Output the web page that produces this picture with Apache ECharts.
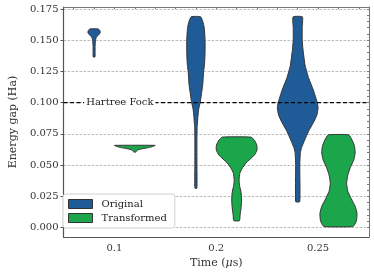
<!DOCTYPE html>
<html><head><meta charset="utf-8">
<script src="https://cdn.jsdelivr.net/npm/echarts@6/dist/echarts.min.js"></script>
<style>html,body{margin:0;padding:0;background:#fff}#c{width:374px;height:276px}</style>
</head><body><div id="c"></div>
<script>
const categories = ['0.1', '0.2', '0.25'];
const seriesNames = ['Original', 'Transformed'];
const yTicks = [0, 0.025, 0.05, 0.075, 0.1, 0.125, 0.15, 0.175];
const hartreeFock = 0.1;

// Violin outlines: energy levels (Ha) and relative half-widths (1 = full violin half-width)
const orig01Y = [0.1590, 0.1575, 0.1560, 0.1545, 0.1525, 0.1500, 0.1450, 0.1400, 0.1366];
const orig01W = [0.21, 0.29, 0.30, 0.24, 0.12, 0.07, 0.05, 0.05, 0.045];
const orig02Y = [0.1688, 0.1650, 0.1600, 0.1500, 0.1400, 0.1300, 0.1250, 0.1150, 0.1090, 0.1010, 0.0950, 0.0890, 0.0800, 0.0700, 0.0500, 0.0315];
const orig02W = [0.23, 0.34, 0.41, 0.45, 0.45, 0.42, 0.38, 0.34, 0.29, 0.22, 0.14, 0.10, 0.06, 0.05, 0.05, 0.05];
const orig025Y = [0.1687, 0.1600, 0.1500, 0.1425, 0.1300, 0.1200, 0.1100, 0.1000, 0.0960, 0.0900, 0.0840, 0.0770, 0.0700, 0.0640, 0.0600, 0.0500, 0.0207];
const orig025W = [0.23, 0.22, 0.22, 0.26, 0.36, 0.53, 0.77, 0.96, 1.00, 0.94, 0.77, 0.53, 0.34, 0.19, 0.13, 0.10, 0.10];

const trans01Y = [0.0658, 0.0650, 0.0640, 0.0630, 0.0620, 0.0610, 0.0604];
const trans01W = [1.00, 0.91, 0.67, 0.34, 0.14, 0.07, 0.05];
const trans02Y = [0.0724, 0.0700, 0.0660, 0.0620, 0.0580, 0.0515, 0.0470, 0.0435, 0.0380, 0.0340, 0.0280, 0.0220, 0.0160, 0.0100, 0.0055];
const trans02W = [0.70, 0.87, 0.99, 1.00, 0.87, 0.45, 0.26, 0.16, 0.12, 0.14, 0.22, 0.24, 0.22, 0.17, 0.14];
const trans025Y = [0.0742, 0.0700, 0.0650, 0.0596, 0.0540, 0.0480, 0.0420, 0.0355, 0.0290, 0.0230, 0.0170, 0.0114, 0.0060, 0.0030, 0.0007];
const trans025W = [0.50, 0.67, 0.79, 0.82, 0.75, 0.58, 0.46, 0.40, 0.46, 0.63, 0.82, 0.91, 0.89, 0.82, 0.71];

const violins = {
  Original: [[orig01Y, orig01W], [orig02Y, orig02W], [orig025Y, orig025W]],
  Transformed: [[trans01Y, trans01W], [trans02Y, trans02W], [trans025Y, trans025W]]
};
const colors = { Original: '#1f5b96', Transformed: '#1ba64b' };
const FONT = 'DejaVu Serif';

function violinSeries(name, sign) {
  return {
    name: name, type: 'custom', xAxisIndex: 0, yAxisIndex: 0, clip: false, z: 3,
    itemStyle: { color: colors[name], borderColor: '#333' },
    encode: { x: 0, y: 1 },
    data: categories.map((c, i) => [i, violins[name][i][0][0]]),
    renderItem: function (params, api) {
      const i = api.value(0);
      const ys = violins[name][i][0], ws = violins[name][i][1];
      const band = api.size([1, 0])[0];
      const cx = api.coord([i, 0])[0] + sign * 0.2 * band;
      const hw = 0.2 * band;
      const right = [], left = [];
      for (let k = 0; k < ys.length; k++) {
        const py = api.coord([i, ys[k]])[1];
        right.push([cx + ws[k] * hw, py]);
        left.push([cx - ws[k] * hw, py]);
      }
      const pts = right.concat(left.reverse());
      return {
        type: 'polygon',
        shape: { points: pts, smooth: 0.15 },
        style: { fill: colors[name], stroke: '#333', lineWidth: 1 }
      };
    }
  };
}

const chart = echarts.init(document.getElementById('c'), null, { renderer: 'canvas' });
chart.setOption({
  animation: false,
  textStyle: { fontFamily: FONT },
  grid: { left: 57, right: 5, top: 7, bottom: 39 },
  xAxis: [{
    type: 'category', data: categories, position: 'bottom',
    axisLine: { onZero: false, lineStyle: { color: '#555', width: 1.2 } },
    axisTick: { show: false },
    axisLabel: { color: '#333', fontFamily: FONT, fontSize: 10, margin: 6 },
    name: '{a|Time (}{b|μ}{a|s)}', nameLocation: 'middle', nameGap: 21,
    nameTextStyle: { color: '#333', fontFamily: FONT, fontSize: 11,
      rich: { a: { fontFamily: FONT, fontSize: 11, color: '#333' },
              b: { fontFamily: FONT, fontSize: 11, color: '#333', fontStyle: 'italic' } } }
  }, {
    type: 'value', min: 0, max: 3, position: 'top',
    axisLine: { show: true, onZero: false, lineStyle: { color: '#777', width: 1 } },
    axisTick: { show: true, inside: true, length: 2, lineStyle: { color: '#777' },
      customValues: [0.1, 0.3, 0.5, 0.7, 0.9, 1.1, 1.3, 1.5, 1.7, 1.9, 2.1, 2.3, 2.5, 2.7, 2.9] },
    axisLabel: { show: false }, splitLine: { show: false }
  }],
  yAxis: [{
    type: 'value', min: -0.0076, max: 0.1766,
    axisLine: { show: true, onZero: false, lineStyle: { color: '#555', width: 1.2 } },
    axisTick: { show: true, length: 3, lineStyle: { color: '#555' }, customValues: yTicks },
    axisLabel: { color: '#333', fontFamily: FONT, fontSize: 10, margin: 5,
      customValues: yTicks, formatter: v => v.toFixed(3) },
    splitLine: { show: true, lineStyle: { color: '#aaaaaa', type: [2.5, 1.5], width: 0.8 } },
    name: 'Energy gap (Ha)', nameLocation: 'middle', nameGap: 40,
    nameTextStyle: { color: '#333', fontFamily: FONT, fontSize: 11 }
  }, {
    type: 'value', min: -0.0076, max: 0.1766, position: 'right',
    axisLine: { show: true, onZero: false, lineStyle: { color: '#777', width: 1 } },
    axisTick: { show: true, inside: true, length: 2, lineStyle: { color: '#777' },
      customValues: [0, 0.005, 0.01, 0.015, 0.02, 0.025, 0.03, 0.035, 0.04, 0.045, 0.05, 0.055, 0.06, 0.065, 0.07, 0.075, 0.08, 0.085, 0.09, 0.095, 0.1, 0.105, 0.11, 0.115, 0.12, 0.125, 0.13, 0.135, 0.14, 0.145, 0.15, 0.155, 0.16, 0.165, 0.17, 0.175] },
    axisLabel: { show: false }, splitLine: { show: false }
  }],
  legend: {
    data: seriesNames, orient: 'vertical', left: 63, top: 194,
    backgroundColor: '#fff', borderColor: '#d0d0d0', borderWidth: 1, borderRadius: 3,
    padding: [5, 8, 5, 5], itemGap: 4, itemWidth: 24, itemHeight: 9, icon: 'rect',
    itemStyle: { borderColor: '#333', borderWidth: 1 },
    textStyle: { fontFamily: FONT, fontSize: 10, color: '#222', padding: [0, 0, 0, 4] }
  },
  series: [
    violinSeries('Original', -1),
    violinSeries('Transformed', 1),
    {
      name: 'Hartree Fock', type: 'custom', z: 5, clip: false, silent: true,
      encode: { x: 0, y: 1 },
      data: [[0, hartreeFock]],
      renderItem: function (params, api) {
        const cs = params.coordSys;
        const p = api.coord([0, api.value(1)]);
        const band = api.size([1, 0])[0];
        return {
          type: 'group', children: [{
            type: 'line',
            shape: { x1: cs.x, y1: p[1], x2: cs.x + cs.width, y2: p[1] },
            style: { stroke: '#000', lineWidth: 1.2, lineDash: [4, 2.5] }
          }, {
            type: 'text',
            style: { x: p[0] + 0.053 * band, y: p[1], text: 'Hartree Fock', align: 'center', verticalAlign: 'middle',
              fill: '#222', font: '10px "DejaVu Serif"', backgroundColor: '#fff', padding: [1, 2] }
          }]
        };
      }
    }
  ]
});
</script></body></html>
